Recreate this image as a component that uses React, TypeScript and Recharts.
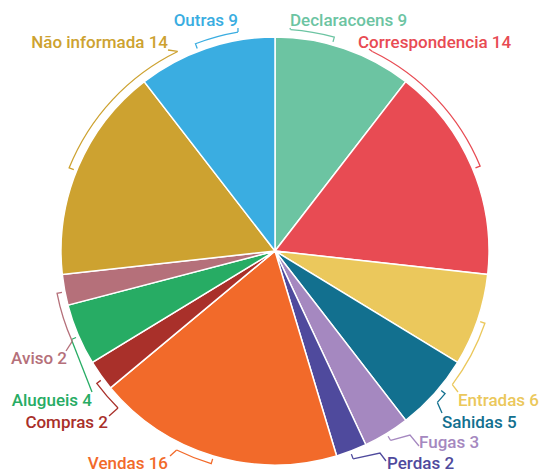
import React from 'react';
import { PieChart, Pie, Cell } from 'recharts';

const CATEGORIES = [
  'Declaracoens',
  'Correspondencia',
  'Entradas',
  'Sahidas',
  'Fugas',
  'Perdas',
  'Vendas',
  'Compras',
  'Alugueis',
  'Aviso',
  'Não informada',
  'Outras',
];

const VALUES = [9, 14, 6, 5, 3, 2, 16, 2, 4, 2, 14, 9];

const COLORS = [
  '#6cc4a2',
  '#e84b53',
  '#ebc85c',
  '#12708f',
  '#a588c0',
  '#4f4a9d',
  '#f26a2a',
  '#a9302a',
  '#27ac64',
  '#b5707a',
  '#cda230',
  '#3aade1',
];

// label placement: bracket angles (deg clockwise from top; a1 = leader end, a2 = tick end),
// text position/anchor, optional elbow and leader attach point
type Layout = {
  a1: number;
  a2: number;
  tx: number;
  ty: number;
  anchor: 'start' | 'end';
  via?: [number, number];
  to: [number, number];
};

const LABEL_LAYOUT: Record<string, Layout> = {
  Declaracoens: { a1: 4, a2: 15.5, tx: 290, ty: 20, anchor: 'start', to: [290, 28] },
  Correspondencia: { a1: 26, a2: 67.5, tx: 358, ty: 42, anchor: 'start', to: [369, 49] },
  Entradas: { a1: 127, a2: 109, tx: 458, ty: 400, anchor: 'start', to: [458, 392] },
  Sahidas: { a1: 133, a2: 130, tx: 442, ty: 422, anchor: 'start', to: [442, 413] },
  Fugas: { a1: 148.6, a2: 148.6, tx: 419, ty: 442, anchor: 'start', via: [410, 435], to: [419, 446] },
  Perdas: { a1: 159.4, a2: 159.4, tx: 387, ty: 463, anchor: 'start', via: [380, 453], to: [386, 461] },
  Vendas: { a1: 206.3, a2: 196.7, tx: 168, ty: 463, anchor: 'end', to: [170, 456] },
  Compras: { a1: 225, a2: 233.4, tx: 108, ty: 422, anchor: 'end', to: [109, 416] },
  Alugueis: { a1: 246.5, a2: 246.5, tx: 92, ty: 400, anchor: 'end', to: [92, 392] },
  Aviso: { a1: 246, a2: 259, tx: 67, ty: 358, anchor: 'end', to: [66, 351] },
  'Não informada': { a1: 334, a2: 292, tx: 168, ty: 42, anchor: 'end', to: [168, 50] },
  Outras: { a1: 350.4, a2: 339, tx: 238, ty: 20, anchor: 'end', to: [238, 28] },
};

const CX = 275;
const CY = 251;
const RADIUS = 214;

const chartData = CATEGORIES.map((name, i) => ({ name, value: VALUES[i] }));

function renderLabel(props: any) {
  const cx = Number(props.cx ?? CX);
  const cy = Number(props.cy ?? CY);
  const outerRadius = Number(props.outerRadius ?? RADIUS);
  const index = props.index as number;
  const name = CATEGORIES[index];
  const lay = LABEL_LAYOUT[name];
  const color = COLORS[index];
  if (!lay) return null;

  const rb = outerRadius + 8;
  const rt = outerRadius + 3;
  const pt = (a: number, r: number) => [
    cx + r * Math.sin((a * Math.PI) / 180),
    cy - r * Math.cos((a * Math.PI) / 180),
  ];

  const [x1, y1] = pt(lay.a1, rb);
  const [x2, y2] = pt(lay.a2, rb);
  const [xt, yt] = pt(lay.a2, rt);
  const sweep = lay.a2 > lay.a1 ? 1 : 0;

  let d = `M${x1},${y1}`;
  if (lay.a1 !== lay.a2) d += ` A${rb},${rb} 0 0 ${sweep} ${x2},${y2}`;
  d += ` L${xt},${yt}`;
  let leader = `M${x1},${y1}`;
  if (lay.via) leader += ` L${lay.via[0]},${lay.via[1]}`;
  leader += ` L${lay.to[0]},${lay.to[1]}`;

  return (
    <g key={`label-${index}`}>
      <path d={d} fill="none" stroke={color} strokeWidth={1.3} />
      <path d={leader} fill="none" stroke={color} strokeWidth={1.3} />
      <text
        x={lay.tx}
        y={lay.ty}
        textAnchor={lay.anchor}
        dominantBaseline="central"
        fill={color}
        fontFamily="Roboto, 'Noto Sans', sans-serif"
        fontWeight={500}
        fontSize={17}
      >
        {`${name} ${VALUES[index]}`}
      </text>
    </g>
  );
}

export default function App() {
  return (
    <div style={{ position: 'absolute', left: 0, top: 0, width: 545, height: 473, background: '#fff' }}>
      <PieChart width={545} height={473} margin={{ top: 0, right: 0, bottom: 0, left: 0 }}>
        <Pie
          data={chartData}
          dataKey="value"
          nameKey="name"
          cx={CX}
          cy={CY}
          outerRadius={RADIUS}
          startAngle={90}
          endAngle={-270}
          stroke="#ffffff"
          strokeWidth={1.5}
          label={renderLabel}
          labelLine={false}
          isAnimationActive={false}
        >
          {chartData.map((entry, index) => (
            <Cell key={`cell-${index}`} fill={COLORS[index]} />
          ))}
        </Pie>
      </PieChart>
    </div>
  );
}
